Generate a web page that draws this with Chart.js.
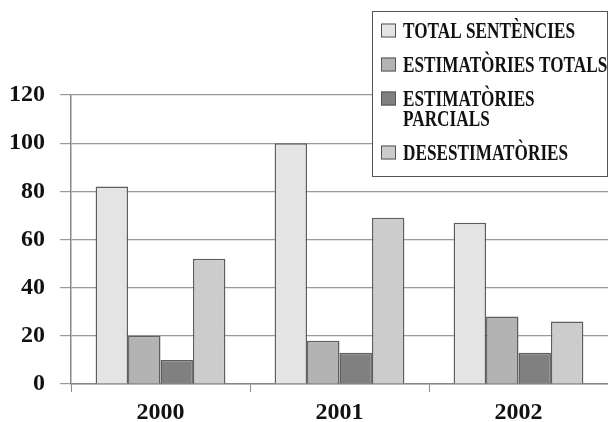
<!DOCTYPE html>
<html>
<head>
<meta charset="utf-8">
<script src="https://cdn.jsdelivr.net/npm/chart.js@4.4.1/dist/chart.umd.min.js"></script>
<style>
  html, body { margin: 0; padding: 0; background: #fff; }
  #wrap { width: 608px; height: 422px; }
</style>
</head>
<body>
<div id="wrap"><canvas id="chart" width="608" height="422"></canvas></div>
<script>
const years = ['2000', '2001', '2002'];
const totalSentencies = [82, 100, 67];
const estimatoriesTotals = [20, 18, 28];
const estimatoriesParcials = [10, 13, 13];
const desestimatories = [52, 69, 26];

const seriesLabels = [
    ['TOTAL SENTÈNCIES'],
    ['ESTIMATÒRIES TOTALS'],
    ['ESTIMATÒRIES', 'PARCIALS'],
    ['DESESTIMATÒRIES']
];
const seriesColors = ['#e4e4e4', '#b3b3b3', '#808080', '#cccccc'];
const yTicks = [0, 20, 40, 60, 80, 100, 120];

const serif = '"Liberation Serif", "DejaVu Serif", serif';

// legend drawn by hand: the original uses a condensed serif and a wrapped label
const boxLegend = {
    id: 'boxLegend',
    afterDraw(chart) {
        const ctx = chart.ctx;
        ctx.save();
        ctx.fillStyle = '#fff';
        ctx.fillRect(372, 11, 236, 166);
        ctx.strokeStyle = '#555';
        ctx.lineWidth = 1;
        ctx.strokeRect(372.5, 11.5, 235, 165);

        let baseline = 37.5;
        seriesLabels.forEach((lines, i) => {
            ctx.fillStyle = seriesColors[i];
            ctx.fillRect(381, baseline - 14, 15, 14);
            ctx.strokeStyle = '#555';
            ctx.strokeRect(381.5, baseline - 13.5, 14, 13);

            ctx.fillStyle = '#111';
            ctx.font = 'bold 22.5px ' + serif;
            ctx.textBaseline = 'alphabetic';
            lines.forEach((line, j) => {
                ctx.save();
                ctx.translate(403, baseline + j * 20);
                ctx.scale(0.765, 1);
                ctx.fillText(line, 0, 0);
                ctx.restore();
            });
            baseline += (lines.length - 1) * 20 + 34;
        });
        ctx.restore();
    }
};

const datasets = [totalSentencies, estimatoriesTotals, estimatoriesParcials, desestimatories]
    .map((values, i) => ({
        label: seriesLabels[i].join(' '),
        data: values,
        backgroundColor: seriesColors[i],
        borderColor: '#5e5e5e',
        borderWidth: 1.5,
        borderSkipped: 'start',
        categoryPercentage: 0.725,
        barPercentage: 1.0
    }));

new Chart(document.getElementById('chart'), {
    type: 'bar',
    data: { labels: years, datasets },
    options: {
        responsive: false,
        animation: false,
        layout: { padding: { top: 95, left: 0, right: 0, bottom: 0 } },
        plugins: {
            legend: { display: false },
            tooltip: { enabled: false }
        },
        scales: {
            x: {
                afterFit: (scale) => { scale.height = 38; },
                grid: {
                    offset: true,
                    drawOnChartArea: false,
                    tickLength: 8,
                    color: '#888'
                },
                border: { color: '#888', width: 1.5 },
                ticks: {
                    padding: 6,
                    color: '#111',
                    font: { family: serif, size: 24, weight: 'bold' }
                }
            },
            y: {
                min: 0,
                max: 120,
                afterFit: (scale) => { scale.width = 71; },
                afterBuildTicks: (scale) => { scale.ticks = yTicks.map(v => ({ value: v })); },
                grid: {
                    color: '#999',
                    lineWidth: 1.2,
                    tickLength: 11
                },
                border: { color: '#888', width: 1.5 },
                ticks: {
                    padding: 15,
                    color: '#111',
                    font: { family: serif, size: 24, weight: 'bold' }
                }
            }
        }
    },
    plugins: [boxLegend]
});
</script>
</body>
</html>
